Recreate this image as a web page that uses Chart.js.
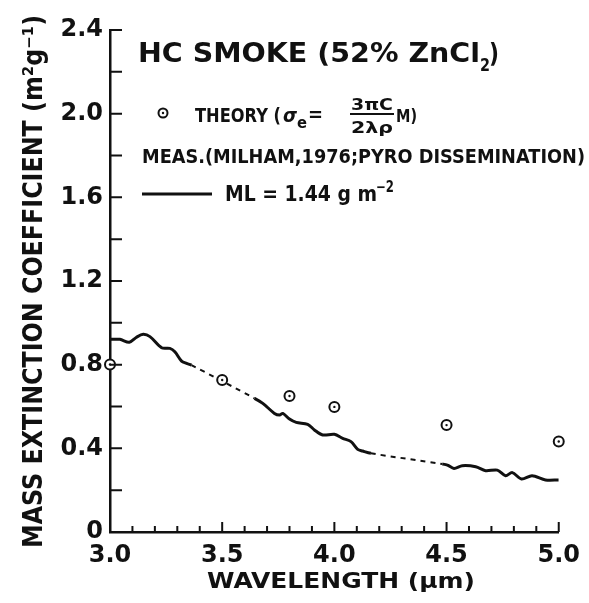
<!DOCTYPE html>
<html>
<head>
<meta charset="utf-8">
<script src="https://cdn.jsdelivr.net/npm/chart.js@4.4.0/dist/chart.umd.min.js"></script>
<style>
  html, body { margin: 0; padding: 0; background: #fff; }
</style>
</head>
<body>
<canvas id="chart" width="589" height="603"></canvas>
<script>
// measured curve, Milham 1976 (wavelength in um, coefficient in m2/g)
const measX = [3.0, 3.044, 3.086, 3.118, 3.148, 3.178, 3.230, 3.267, 3.289, 3.319, 3.341, 3.363,
  3.644, 3.681, 3.733, 3.756, 3.770, 3.800, 3.830, 3.881, 3.911, 3.948, 4.000, 4.037, 4.074,
  4.104, 4.126, 4.163, 4.481, 4.504, 4.533, 4.570, 4.630, 4.674, 4.726, 4.763, 4.793, 4.834,
  4.881, 4.941, 5.0];
const measY = [0.921, 0.921, 0.907, 0.931, 0.945, 0.934, 0.881, 0.878, 0.862, 0.817, 0.806, 0.798,
  0.639, 0.615, 0.567, 0.559, 0.567, 0.540, 0.524, 0.515, 0.488, 0.464, 0.467, 0.448, 0.432,
  0.395, 0.387, 0.376, 0.325, 0.320, 0.304, 0.317, 0.312, 0.293, 0.296, 0.269, 0.284, 0.253,
  0.269, 0.249, 0.249];
// stretches of the measured curve drawn dashed
const dashedRanges = [[3.363, 3.644], [4.163, 4.481]];

// theory points
const theoryX = [3.0, 3.5, 3.8, 4.0, 4.5, 5.0];
const theoryY = [0.801, 0.727, 0.650, 0.598, 0.511, 0.433];

const yTickLabels = ['0', '0.4', '0.8', '1.2', '1.6', '2.0', '2.4'];
const xTickLabels = ['3.0', '3.5', '4.0', '4.5', '5.0'];

const INK = '#111';
const FONT = 'DejaVu Sans';

const toPoints = (xs, ys) => xs.map((x, i) => ({ x: x, y: ys[i] }));

const isDashed = (ctx) => dashedRanges.some(r =>
  ctx.p0.parsed.x >= r[0] - 1e-6 && ctx.p1.parsed.x <= r[1] + 1e-6);

// text squeezed/stretched to a given width
function fitText(ctx, str, x, y, font, width) {
  ctx.save();
  ctx.font = font;
  const w = ctx.measureText(str).width;
  ctx.translate(x, y);
  ctx.scale(width ? width / w : 1, 1);
  ctx.textAlign = 'left';
  ctx.textBaseline = 'alphabetic';
  ctx.fillStyle = INK;
  ctx.fillText(str, 0, 0);
  ctx.restore();
}

const inwardTicks = {
  id: 'inwardTicks',
  afterDraw(chart) {
    const { ctx, scales: { x, y } } = chart;
    ctx.save();
    ctx.strokeStyle = INK;
    ctx.lineWidth = 2;
    ctx.beginPath();
    y.ticks.forEach(t => {
      const py = y.getPixelForValue(t.value);
      ctx.moveTo(x.left, py);
      ctx.lineTo(x.left + 12, py);
    });
    x.ticks.forEach((t, i) => {
      const px = x.getPixelForValue(t.value);
      const len = i % 5 === 0 ? 10 : 6;
      ctx.moveTo(px, y.bottom);
      ctx.lineTo(px, y.bottom - len);
    });
    ctx.stroke();
    ctx.restore();
  }
};

const annotations = {
  id: 'annotations',
  afterDraw(chart) {
    const ctx = chart.ctx;
    const b = 'bold ';

    // title
    fitText(ctx, 'HC SMOKE (52% ZnCl', 138, 62, b + '27px ' + FONT, 342);
    fitText(ctx, '2', 480, 71, b + '17px ' + FONT, 10);
    fitText(ctx, ')', 489, 62, b + '27px ' + FONT, 10);

    // theory legend marker
    ctx.save();
    ctx.strokeStyle = INK;
    ctx.fillStyle = INK;
    ctx.lineWidth = 2;
    ctx.beginPath();
    ctx.arc(163, 113, 4.5, 0, Math.PI * 2);
    ctx.stroke();
    ctx.beginPath();
    ctx.arc(163, 113, 1.2, 0, Math.PI * 2);
    ctx.fill();
    ctx.restore();

    fitText(ctx, 'THEORY (', 195, 122, b + '20px ' + FONT, 86);
    fitText(ctx, 'σ', 283, 122, 'bold italic 20px ' + FONT, 14);
    fitText(ctx, 'e', 297, 128, b + '16px ' + FONT, 10);
    fitText(ctx, '=', 308, 121, b + '20px ' + FONT, 15);
    fitText(ctx, '3πC', 351, 110, b + '15px ' + FONT, 42);
    ctx.save();
    ctx.fillStyle = INK;
    ctx.fillRect(350, 113, 44, 2);
    ctx.restore();
    fitText(ctx, '2λρ', 351, 133, b + '15px ' + FONT, 42);
    fitText(ctx, 'M)', 396, 122, b + '18px ' + FONT, 21);

    // measured legend
    fitText(ctx, 'MEAS.(MILHAM,1976;PYRO DISSEMINATION)', 142, 163, b + '19px ' + FONT, 443);
    ctx.save();
    ctx.strokeStyle = INK;
    ctx.lineWidth = 3;
    ctx.beginPath();
    ctx.moveTo(142, 194);
    ctx.lineTo(212, 194);
    ctx.stroke();
    ctx.restore();
    fitText(ctx, 'ML = 1.44 g m', 225, 201, b + '21px ' + FONT, 152);
    fitText(ctx, '−2', 376, 192, b + '15px ' + FONT, 18);

    // axis titles
    ctx.save();
    ctx.translate(42, 548);
    ctx.rotate(-Math.PI / 2);
    fitText(ctx, 'MASS EXTINCTION COEFFICIENT (m²g⁻¹)', 0, 0, b + '27px ' + FONT, 533);
    ctx.restore();
    fitText(ctx, 'WAVELENGTH (μm)', 207, 588, b + '21px ' + FONT, 268);
  }
};

const ctx = document.getElementById('chart');
new Chart(ctx, {
  type: 'scatter',
  data: {
    datasets: [
      {
        // centre dots of the theory circles
        data: toPoints(theoryX, theoryY),
        pointRadius: 1.2,
        pointBackgroundColor: INK,
        pointBorderWidth: 0,
        showLine: false,
        clip: false
      },
      {
        data: toPoints(theoryX, theoryY),
        pointRadius: 5,
        pointBackgroundColor: '#fff',
        pointBorderColor: INK,
        pointBorderWidth: 2,
        showLine: false,
        clip: false
      },
      {
        data: toPoints(measX, measY),
        showLine: true,
        borderColor: INK,
        borderWidth: 3,
        tension: 0.3,
        pointRadius: 0,
        segment: {
          borderDash: c => isDashed(c) ? [5, 5] : undefined,
          borderWidth: c => isDashed(c) ? 2 : undefined
        }
      }
    ]
  },
  options: {
    responsive: false,
    animation: false,
    layout: { padding: { top: 30, right: 29, left: 0, bottom: 0 } },
    plugins: {
      legend: { display: false },
      tooltip: { enabled: false }
    },
    scales: {
      x: {
        type: 'linear',
        min: 3.0,
        max: 5.0,
        afterFit: s => { s.height = 71; },
        grid: { display: false, drawTicks: false },
        border: { display: true, color: INK, width: 2.5 },
        ticks: {
          stepSize: 0.1,
          autoSkip: false,
          maxRotation: 0,
          padding: 9,
          color: INK,
          font: { family: FONT, size: 24, weight: 'bold' },
          callback: (v, i) => i % 5 === 0 ? xTickLabels[i / 5] : ''
        }
      },
      y: {
        min: 0,
        max: 2.4,
        afterFit: s => { s.width = 110; },
        grid: { display: false, drawTicks: false },
        border: { display: true, color: INK, width: 2.5 },
        ticks: {
          stepSize: 0.2,
          autoSkip: false,
          padding: 7,
          color: INK,
          font: { family: FONT, size: 24, weight: 'bold' },
          callback: (v, i) => i % 2 === 0 ? yTickLabels[i / 2] : ''
        }
      }
    }
  },
  plugins: [inwardTicks, annotations]
});
</script>
</body>
</html>
